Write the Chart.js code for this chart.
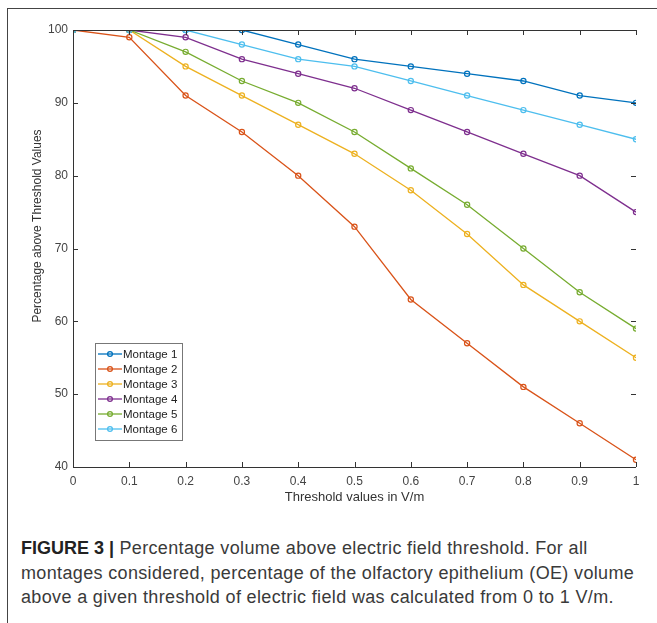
<!DOCTYPE html>
<html>
<head>
<meta charset="utf-8">
<script src="https://cdn.jsdelivr.net/npm/chart.js@4"></script>
<style>
  html, body { margin: 0; padding: 0; background: #fff; }
  body { width: 657px; height: 623px; position: relative; overflow: hidden; }
  #frame { position: absolute; left: 7px; top: 8px; width: 660px; height: 620px;
    border-left: 1px solid #444; border-top: 1px solid #444; }
  #wrap { position: absolute; left: 0; top: 0; width: 657px; height: 520px; }
  #caption { position: absolute; left: 21px; top: 536px; width: 636px; white-space: nowrap;
    font-family: "Liberation Sans", Arial, sans-serif; font-size: 18px; letter-spacing: 0.35px;
    line-height: 24.5px; color: #3a3a3a; }
  #caption b { color: #222; letter-spacing: 0; }
</style>
</head>
<body>
<div id="frame"></div>
<div id="wrap"><canvas id="myChart"></canvas></div>
<div id="caption"><b>FIGURE 3 |</b> Percentage volume above electric field threshold. For all<br>montages considered, percentage of the olfactory epithelium (OE) volume<br>above a given threshold of electric field was calculated from 0 to 1 V/m.</div>
<script>
const thresholds = [0, 0.1, 0.2, 0.3, 0.4, 0.5, 0.6, 0.7, 0.8, 0.9, 1];
const montage1 = [100, 100, 100, 100, 98, 96, 95, 94, 93, 91, 90];
const montage2 = [100, 99, 91, 86, 80, 73, 63, 57, 51, 46, 41];
const montage3 = [100, 100, 95, 91, 87, 83, 78, 72, 65, 60, 55];
const montage4 = [100, 100, 99, 96, 94, 92, 89, 86, 83, 80, 75];
const montage5 = [100, 100, 97, 93, 90, 86, 81, 76, 70, 64, 59];
const montage6 = [100, 100, 100, 98, 96, 95, 93, 91, 89, 87, 85];
const seriesNames = ["Montage 1", "Montage 2", "Montage 3", "Montage 4", "Montage 5", "Montage 6"];
const yTicks = [40, 50, 60, 70, 80, 90, 100];

const colors = ["#0072BD", "#D95319", "#EDB120", "#7E2F8E", "#77AC30", "#4DBEEE"];
const allSeries = [montage1, montage2, montage3, montage4, montage5, montage6];
const FONT = "'Liberation Sans', Arial, sans-serif";

const datasets = allSeries.map((vals, i) => ({
  label: seriesNames[i],
  data: vals.map((v, j) => ({ x: thresholds[j], y: v })),
  borderColor: colors[i],
  backgroundColor: "rgba(255,255,255,0)",
  borderWidth: 1.3,
  pointRadius: 2.6,
  pointBorderWidth: 1.2,
  pointBackgroundColor: "rgba(255,255,255,0)",
  tension: 0,
  order: 6 - i,
}));

// MATLAB style box, inward ticks, y label and legend
const matlabAxes = {
  id: "matlabAxes",
  afterDatasetsDraw(chart) {
    const { ctx, chartArea: a, scales: { x, y } } = chart;
    ctx.save();
    ctx.strokeStyle = "#333";
    ctx.lineWidth = 1;
    ctx.beginPath();
    ctx.moveTo(a.left + 0.5, a.top);
    ctx.lineTo(a.left + 0.5, a.bottom + 0.5);
    ctx.lineTo(a.right, a.bottom + 0.5);
    ctx.moveTo(a.left, a.top + 0.5);
    ctx.lineTo(a.right, a.top + 0.5);
    const tl = 5;
    thresholds.forEach(t => {
      const px = Math.round(x.getPixelForValue(t)) + 0.5;
      ctx.moveTo(px, a.bottom);
      ctx.lineTo(px, a.bottom - tl);
      ctx.moveTo(px, a.top);
      ctx.lineTo(px, a.top + tl);
    });
    yTicks.forEach(v => {
      const py = Math.round(y.getPixelForValue(v)) + 0.5;
      ctx.moveTo(a.left, py);
      ctx.lineTo(a.left + tl, py);
      ctx.moveTo(a.right, py);
      ctx.lineTo(a.right - tl, py);
    });
    ctx.stroke();

    // y axis title
    ctx.fillStyle = "#333";
    ctx.font = "12px " + FONT;
    ctx.textAlign = "center";
    ctx.textBaseline = "middle";
    ctx.translate(38, 226);
    ctx.rotate(-Math.PI / 2);
    ctx.fillText("Percentage above Threshold Values", 0, 0);
    ctx.restore();

    // legend box
    ctx.save();
    const lx = 95, ly = 343, lw = 87, lh = 97;
    ctx.fillStyle = "#fff";
    ctx.fillRect(lx, ly, lw, lh);
    ctx.strokeStyle = "#777";
    ctx.lineWidth = 1;
    ctx.strokeRect(lx + 0.5, ly + 0.5, lw, lh);
    ctx.font = "11.5px " + FONT;
    ctx.textAlign = "left";
    ctx.textBaseline = "middle";
    seriesNames.forEach((name, i) => {
      const cy = ly + 11 + i * 15;
      ctx.strokeStyle = colors[i];
      ctx.lineWidth = 1.3;
      ctx.beginPath();
      ctx.moveTo(lx + 3, cy);
      ctx.lineTo(lx + 27, cy);
      ctx.stroke();
      ctx.beginPath();
      ctx.arc(lx + 15, cy, 2.4, 0, Math.PI * 2);
      ctx.stroke();
      ctx.fillStyle = "#222";
      ctx.fillText(name, lx + 28, cy + 0.5);
    });
    ctx.restore();
  },
};

const options = {
  responsive: true,
  maintainAspectRatio: false,
  animation: false,
  layout: { padding: { left: 0, top: 30, right: 21, bottom: 0 } },
  plugins: { legend: { display: false }, tooltip: { enabled: false } },
  scales: {
    x: {
      type: "linear",
      min: 0,
      max: 1,
      grid: { display: false, drawTicks: false },
      border: { display: false },
      afterBuildTicks: s => { s.ticks = thresholds.map(v => ({ value: v })); },
      afterFit: s => { s.height = 53; },
      ticks: {
        padding: 7,
        color: "#444",
        font: { family: FONT, size: 12 },
        maxRotation: 0,
        autoSkip: false,
        callback: v => String(Math.round(v * 10) / 10),
      },
      title: {
        display: true,
        text: "Threshold values in V/m",
        color: "#333",
        font: { family: FONT, size: 13 },
        padding: { top: 0, bottom: 15 },
      },
    },
    y: {
      min: 40,
      max: 100,
      grid: { display: false, drawTicks: false },
      border: { display: false },
      afterBuildTicks: s => { s.ticks = yTicks.map(v => ({ value: v })); },
      afterFit: s => { s.width = 73; },
      ticks: {
        padding: 5,
        color: "#444",
        font: { family: FONT, size: 12 },
      },
    },
  },
};

Chart.defaults.font.family = FONT;

const myChart = new Chart(document.getElementById("myChart"), {
  type: "line",
  data: { datasets },
  options,
  plugins: [matlabAxes],
});
</script>
</body>
</html>
